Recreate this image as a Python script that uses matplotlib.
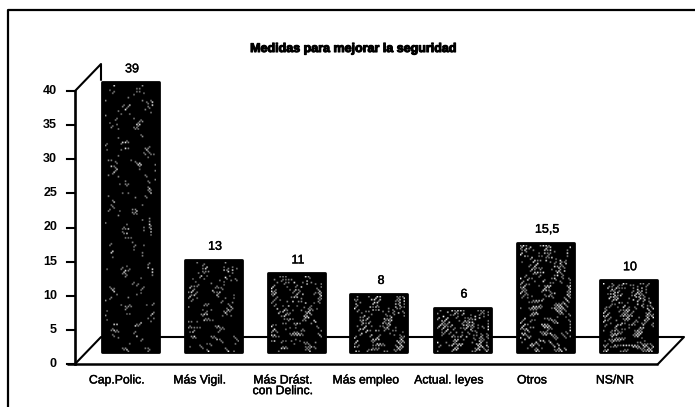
import numpy as np
import matplotlib
matplotlib.use("Agg")
import matplotlib.pyplot as plt
import matplotlib.patheffects as pe
from matplotlib.lines import Line2D

plt.rcParams['font.family'] = ['Liberation Sans', 'DejaVu Sans']

categories = ["Cap.Polic.", "Más Vigil.", "Más Drást.\ncon Delinc.", "Más empleo",
              "Actual. leyes", "Otros", "NS/NR"]
values = [39, 13, 11, 8, 6, 15.5, 10]
value_labels = ["39", "13", "11", "8", "6", "15,5", "10"]
yticks = [0, 5, 10, 15, 20, 25, 30, 35, 40]
# how much of each bar's black fill is broken up by the grey print pattern
speckle_levels = [1.9, 1.6, 1.05, 0.95, 0.6, 0.85, 0.55]

W, H = 695, 407
# pixels per category and per unit on the value axis
x0, y0 = 75, 364
cat_w = 83.0
unit = 6.825
depth_x, depth_y = 26 / cat_w, 27 / unit  # 3D offset of the back wall
bar_lift = 2.27
floor_lift = 1.76
bar_w = 57 / cat_w
bold = [pe.withStroke(linewidth=0.3, foreground='black')]


# Grey dither on black, clumped by a few overlapping waves
def speckle(w, h, level, phase):
    yy, xx = np.mgrid[17:h + 17, 23:w + 23]
    f = (np.sin(xx * 0.37 + phase) * np.sin(yy * 0.23 + 2 * phase) * 1.6
         + np.sin(xx * xx * 0.041 + yy * yy * 0.013 + phase)
         + np.sin(xx * yy * 0.053 + phase)
         + 0.7 * np.sin(xx * xx * yy * 0.0071))
    img = np.zeros((h, w))
    dots = (f > level) & ((xx + yy) % 2 == 0)
    img[dots] = 0.6
    img[dots & (f > level + 1.0)] = 1.0
    return img


fig = plt.figure(figsize=(W / 100, H / 100), dpi=100)
ax = fig.add_axes([0, 0, 1, 1])
xlim = (-x0 / cat_w, (W - x0) / cat_w)
ylim = (-(H - y0) / unit, y0 / unit)
ax.axis('off')

# page frame
fig.add_artist(Line2D([8 / W, 8 / W, 1], [0, 1 - 10 / H, 1 - 10 / H], color='black', lw=1.6))

# floor and side wall of the 3D frame
n = len(categories)
floor_end = 583 / cat_w
ax.plot([-8 / cat_w, floor_end], [0, 0], color='black', lw=1.8, solid_capstyle='butt')
ax.plot([floor_end, floor_end + depth_x, depth_x, 0], [0, depth_y, depth_y, 0], color='black', lw=1.5)
ax.plot([0, 0], [0, 40], color='black', lw=1.9)
ax.plot([0, depth_x, depth_x], [40, 40 + depth_y, 40 + depth_y - 2.3], color='black', lw=1.5)

for t in yticks:
    ax.plot([-8 / cat_w, 0], [t, t], color='black', lw=1.5)
    ax.text(-18 / cat_w, t, str(t), ha='right', va='center', fontsize=9, fontweight='bold')

xs = [(26 + 29 + 83 * i) / cat_w for i in range(n)]
for i, (x, v) in enumerate(zip(xs, values)):
    top = v + bar_lift
    rects = ax.bar(x, top - floor_lift, bottom=floor_lift, width=bar_w, color='black',
                   edgecolor='black', lw=2, joinstyle='round', zorder=3)
    w_cells, h_cells = 36, int((top - floor_lift) * unit / 1.5)
    tex = speckle(w_cells, h_cells, speckle_levels[i], 0.9 * i + 0.4)
    im = ax.imshow(tex, extent=(x - bar_w / 2 + 3 / cat_w, x + bar_w / 2 - 3 / cat_w,
                                floor_lift, top - 3 / unit), cmap='gray',
                   vmin=0, vmax=1, aspect='auto', interpolation='bilinear', zorder=4)
    ax.text(x + 2 / cat_w, top + 13 / unit, value_labels[i], ha='center', va='center',
            fontsize=9, path_effects=bold)
    ax.text(x - 13 / cat_w, -10.5 / unit, categories[i], ha='center', va='top', fontsize=8.8,
            linespacing=0.85, path_effects=bold)

ax.text((353.5 - x0) / cat_w, (y0 - 49) / unit, "Medidas para mejorar la seguridad",
        ha='center', va='center', fontsize=9, fontweight='bold',
        path_effects=[pe.withStroke(linewidth=0.8, foreground='black')])

ax.set_xlim(*xlim)
ax.set_ylim(*ylim)

fig.savefig("out.png", dpi=100)
